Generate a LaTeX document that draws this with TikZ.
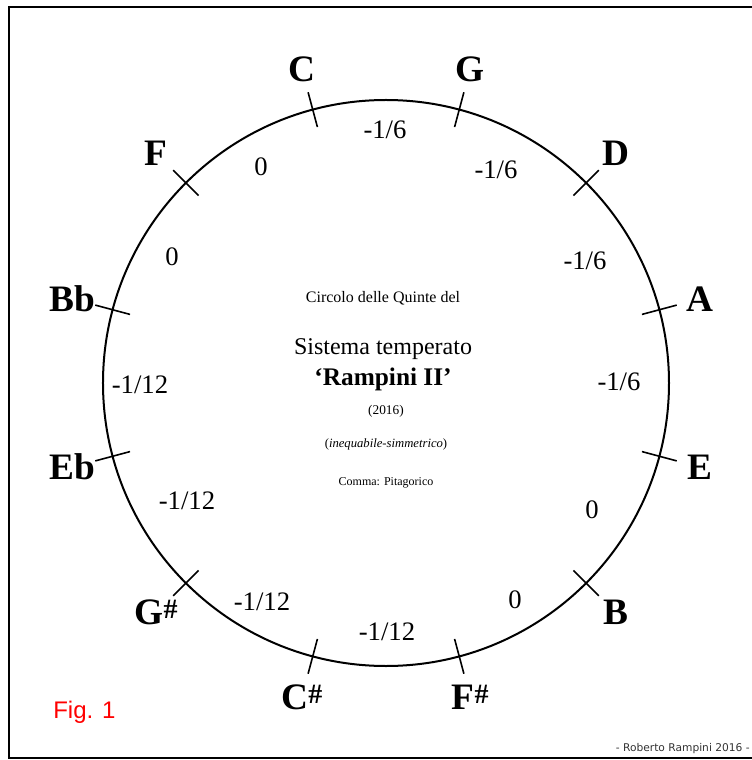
\documentclass[tikz,border=0pt]{standalone}
\usepackage{fontspec}
\setmainfont{Liberation Serif}
\newfontfamily\figfont{Liberation Sans}
\newfontfamily\signfont{DejaVu Sans}
\begin{document}
\begin{tikzpicture}[x=0.75pt,y=0.75pt]
\def\rc{283}   % circle radius
\def\rt{18}    % half length of a tick
\def\rn{325}   % radius of the note names
% a small raised sharp sign
\newcommand{\shp}{\raisebox{4.5pt}{\fontsize{21}{21}\selectfont\#}}
\tikzset{notename/.style={font=\bfseries\fontsize{28}{30}\selectfont,inner sep=0pt},
  valname/.style={font=\fontsize{20}{22}\selectfont,inner sep=0pt}}
\useasboundingbox (-386,-377) rectangle (366,383);
% frame
\draw[line width=2.2pt] (-377,376) rectangle (395,-375);
% the circle
\draw[line width=1.5pt] (0,0) circle (\rc);
% ticks and note names, every 30 degrees
\foreach \a/\nm/\lab in {105/C/C, 75/G/G, 45/D/D, 15/A/A, -15/E/E, -45/B/B,
    -75/Fs/F\shp, -105/Cs/C\shp, -135/Gs/G\shp, -165/Eb/Eb, 165/Bb/Bb, 135/F/F}{
  \draw[line width=1.2pt] (\a:{\rc-\rt}) -- (\a:{\rc+\rt});
  \node[notename] (note\nm) at (\a:\rn) {\lab};
}
% temperaments of the fifths, between the ticks
\foreach \x/\y/\v/\nm in {-1/253/{-1/6}/CG, 110/213/{-1/6}/GD, 199/122/{-1/6}/DA,
    233/1/{-1/6}/AE, 206/-127/0/EB, 129/-217/0/BFs, 1/-249/{-1/12}/FsCs,
    -124/-219/{-1/12}/CsGs, -199/-118/{-1/12}/GsEb, -246/-2/{-1/12}/EbBb,
    -214/126/0/BbF, -125/216/0/FC}{
  \node[valname] (val\nm) at (\x,\y) {\v};
}
% title in the middle
\node[anchor=base,font=\fontsize{12}{14}\selectfont] (title) at (-3,80) {Circolo delle Quinte del};
\node[anchor=base,font=\fontsize{18}{20}\selectfont] (system) at (-3,29) {Sistema temperato};
\node[anchor=base,font=\bfseries\fontsize{19}{21}\selectfont] (tuning) at (-3,-2) {`Rampini II'};
\node[anchor=base,font=\fontsize{10}{12}\selectfont] (year) at (0,-31) {(2016)};
\node[anchor=base,font=\fontsize{9.5}{11}\selectfont] (kind) at (0,-64) {(\textit{inequabile-simmetrico})};
\node[anchor=base,font=\fontsize{9}{10}\selectfont] (comma) at (0,-102) {Comma: Pitagorico};
% figure number and signature
\node[anchor=base west,inner sep=0pt,text=red,font=\figfont\fontsize{18}{20}\selectfont] (fig) at (-333,-335) {Fig. 1};
\node[anchor=base east,inner sep=0pt,text=black!80,font=\signfont\fontsize{8}{9}\selectfont] (sign) at (364,-368) {- Roberto Rampini 2016 -};
\end{tikzpicture}
\end{document}
